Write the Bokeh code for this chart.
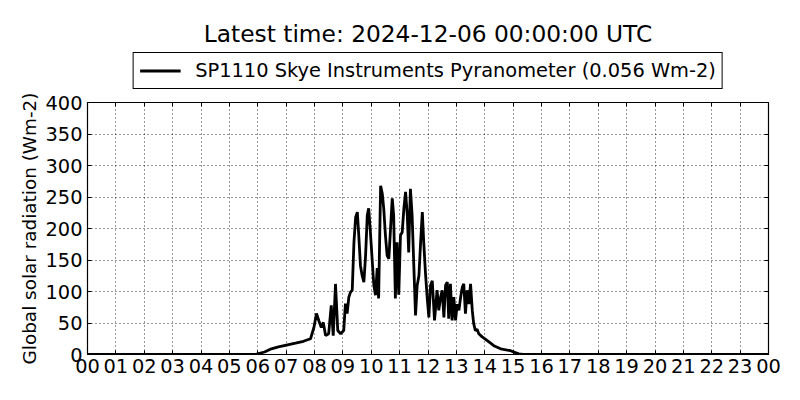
from bokeh.plotting import figure
from bokeh.layouts import column
from bokeh.models import (Range1d, FixedTicker, LinearAxis, Legend, LegendItem, Label)
from bokeh.embed import file_html
from bokeh.resources import INLINE

# Time of day (decimal hours, UTC) and global solar radiation (Wm-2)
hours = [0.00, 5.90, 5.99, 6.24, 6.48, 6.73, 7.01, 7.33, 7.61, 7.86,
         7.98, 8.07, 8.15, 8.24, 8.31, 8.39, 8.50, 8.59, 8.66, 8.74,
         8.82, 8.92, 9.03, 9.09, 9.15, 9.21, 9.27, 9.33, 9.39, 9.45,
         9.51, 9.56, 9.62, 9.68, 9.74, 9.80, 9.86, 9.91, 9.97, 10.03,
         10.09, 10.15, 10.21, 10.26, 10.33, 10.39, 10.44, 10.50, 10.56, 10.62,
         10.68, 10.74, 10.79, 10.85, 10.91, 10.97, 11.03, 11.09, 11.15, 11.21,
         11.27, 11.32, 11.38, 11.44, 11.50, 11.56, 11.62, 11.68, 11.74, 11.80,
         11.85, 11.91, 11.97, 12.03, 12.09, 12.15, 12.23, 12.32, 12.38, 12.44,
         12.50, 12.56, 12.62, 12.68, 12.73, 12.79, 12.85, 12.91, 12.97, 13.03,
         13.09, 13.15, 13.21, 13.26, 13.32, 13.38, 13.44, 13.50, 13.56, 13.61,
         13.67, 13.73, 13.79, 13.91, 14.09, 14.32, 14.56, 14.91, 15.08, 15.20,
         15.35, 24.00]
radiation = [0, 0, 1, 4, 9, 12, 15, 18, 21, 25,
             43, 65, 54, 43, 51, 30, 33, 78, 30, 112,
             38, 33, 38, 81, 65, 91, 99, 102, 178, 218,
             226, 189, 141, 125, 115, 157, 221, 232, 194, 152,
             110, 94, 137, 89, 268, 255, 232, 189, 157, 152,
             200, 248, 221, 89, 178, 95, 189, 194, 232, 258,
             221, 162, 263, 221, 141, 62, 110, 125, 178, 226,
             178, 130, 91, 59, 110, 117, 54, 102, 70, 90,
             102, 59, 110, 115, 57, 112, 54, 91, 54, 80,
             70, 91, 107, 112, 65, 102, 80, 112, 70, 49,
             38, 40, 33, 28, 22, 14, 9, 6, 3, 1,
             0, 0]

x_ticks = list(range(0, 25))
x_tick_labels = ["%02d" % (h % 24) for h in x_ticks]
y_ticks = list(range(0, 401, 50))

title_text = "Latest time: 2024-12-06 00:00:00 UTC"
series_label = "SP1110 Skye Instruments Pyranometer (0.056 Wm-2)"
y_label = "Global solar radiation (Wm-2)"

FONT = "DejaVu Sans"
BASE = "19.4px"
LINE_W = 2.8
TICK = 4

# ---------------- header (title + legend) ----------------
TOP_H = 90
head = figure(width=800, height=TOP_H, output_backend="svg", toolbar_location=None,
              x_range=Range1d(0, 24), y_range=Range1d(0, TOP_H),
              min_border_left=87, min_border_right=32, min_border_top=0, min_border_bottom=0,
              background_fill_color="white", border_fill_color="white")
head.outline_line_color = None
head.axis.visible = False
head.grid.visible = False
# legend sample drawn from the series, mapped to a range that keeps it out of the header frame
head.extra_y_ranges = {"hidden": Range1d(-2000, -1900)}
sample = head.line(hours, radiation, line_color="black", line_width=LINE_W,
                   y_range_name="hidden")

head.add_layout(Label(x=12, y=TOP_H - 33, text=title_text, text_align="center",
                      text_baseline="alphabetic", text_font=FONT, text_font_size="23.3px",
                      text_color="black"))

legend = Legend(items=[LegendItem(label=series_label, renderers=[sample])],
                location="bottom_center", orientation="vertical",
                glyph_width=41, glyph_height=21, label_height=21,
                label_standoff=15, padding=6, margin=1, spacing=0,
                label_text_font=FONT, label_text_font_size=BASE, label_text_color="black",
                border_line_color="black", border_line_width=1, border_line_alpha=1,
                background_fill_color="white", background_fill_alpha=1)
head.add_layout(legend)

# ---------------- main chart ----------------
p = figure(width=800, height=400 - TOP_H, output_backend="svg", toolbar_location=None,
           x_range=Range1d(0, 24), y_range=Range1d(0, 400),
           min_border_left=87, min_border_right=32, min_border_top=102 - TOP_H,
           min_border_bottom=46,
           background_fill_color="white", border_fill_color="white")

p.outline_line_color = "black"
p.outline_line_width = 1.2

r = p.line(hours, radiation, line_color="black", line_width=LINE_W)

for ax in (p.xaxis[0], p.yaxis[0]):
    ax.axis_line_color = None
    ax.major_tick_in = TICK
    ax.major_tick_out = 0
    ax.minor_tick_line_color = None
    ax.major_tick_line_color = "black"
    ax.major_label_text_font = FONT
    ax.major_label_text_font_size = BASE
    ax.major_label_text_color = "black"

p.xaxis[0].ticker = FixedTicker(ticks=x_ticks)
p.xaxis[0].major_label_overrides = {t: l for t, l in zip(x_ticks, x_tick_labels)}
p.xaxis[0].major_label_standoff = 4
p.yaxis[0].ticker = FixedTicker(ticks=y_ticks)
p.yaxis[0].major_label_standoff = 5

p.yaxis[0].axis_label = y_label
p.yaxis[0].axis_label_text_font = FONT
p.yaxis[0].axis_label_text_font_size = "18.4px"
p.yaxis[0].axis_label_text_font_style = "normal"
p.yaxis[0].axis_label_text_color = "black"
p.yaxis[0].axis_label_standoff = 2

# inward ticks on the top and right edges (no labels)
top_ax = LinearAxis(ticker=FixedTicker(ticks=x_ticks), axis_line_color=None,
                    major_tick_in=TICK, major_tick_out=0, minor_tick_line_color=None,
                    major_label_overrides={t: "" for t in x_ticks},
                    major_label_text_font_size="1px", major_label_standoff=0)
right_ax = LinearAxis(ticker=FixedTicker(ticks=y_ticks), axis_line_color=None,
                      major_tick_in=TICK, major_tick_out=0, minor_tick_line_color=None,
                      major_label_overrides={t: "" for t in y_ticks},
                      major_label_text_font_size="1px", major_label_standoff=0)
p.add_layout(top_ax, "above")
p.add_layout(right_ax, "right")

p.xgrid.ticker = FixedTicker(ticks=x_ticks)
p.ygrid.ticker = FixedTicker(ticks=y_ticks)
for g in (p.xgrid[0], p.ygrid[0]):
    g.grid_line_color = "black"
    g.grid_line_alpha = 0.8
    g.grid_line_width = 1
    g.grid_line_dash = "1 3"

layout = column(head, p, spacing=0)
open("out.html", "w").write(file_html(layout, INLINE))
